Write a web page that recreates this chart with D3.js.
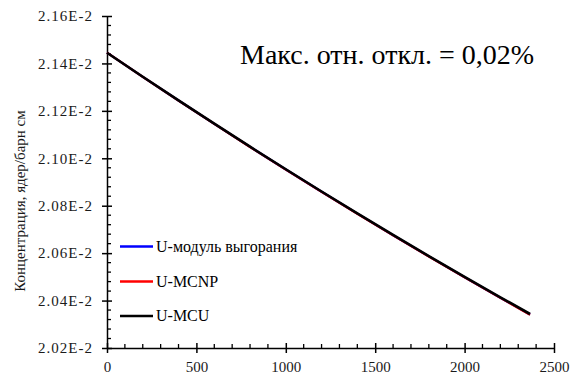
<!DOCTYPE html>
<html>
<head>
<meta charset="utf-8">
<script src="https://cdn.jsdelivr.net/npm/d3@7"></script>
<style>
  body { margin: 0; background: #fff; }
  svg { display: block; }
  text { font-family: "Liberation Serif", "DejaVu Serif", serif; }
</style>
</head>
<body>
<svg id="chart" width="573" height="376"></svg>
<script>
// time, days
const days = [0, 200, 400, 600, 800, 1000, 1200, 1400, 1600, 1800, 2000, 2200, 2366];
// concentration, nuclei/barn cm
const burnupModule = [0.0214452, 0.0213436, 0.0212436, 0.0211451, 0.0210482, 0.0209527, 0.0208589, 0.0207665, 0.0206757, 0.0205863, 0.0204984, 0.0204120, 0.0203412];
const mcnp = [0.0214452, 0.0213434, 0.0212433, 0.0211448, 0.0210478, 0.0209523, 0.0208584, 0.0207660, 0.0206751, 0.0205857, 0.0204978, 0.0204114, 0.0203405];
const mcu = [0.0214452, 0.0213439, 0.0212441, 0.0211458, 0.0210490, 0.0209537, 0.0208599, 0.0207676, 0.0206769, 0.0205876, 0.0204999, 0.0204137, 0.0203434];

const seriesNames = ['U-модуль выгорания', 'U-MCNP', 'U-MCU'];
const seriesColors = ['#0000ff', '#ff0000', '#000000'];
const xTicks = [0, 500, 1000, 1500, 2000, 2500];
const yTicks = [0.0202, 0.0204, 0.0206, 0.0208, 0.0210, 0.0212, 0.0214, 0.0216];

const serif = '"Liberation Serif", "DejaVu Serif", serif';
const svg = d3.select('#chart');
const plotLeft = 107, plotRight = 554, plotTop = 16, plotBottom = 348;

const x = d3.scaleLinear().domain([0, 2500]).range([plotLeft, plotRight]);
const y = d3.scaleLinear().domain([0.0202, 0.0216]).range([plotBottom, plotTop]);

function fmtE(v) {
    return d3.format('.2e')(v).replace('e', 'E').replace('E+', 'E');
}

// minor ticks
const xMinor = d3.range(0, 2501, 100).filter(v => v % 500 !== 0);
const yMinor = d3.range(0, 36).map(i => 0.0202 + i * 0.00004).filter((v, i) => i % 5 !== 0);

const g = svg.append('g');

g.selectAll('.xminor').data(xMinor).enter().append('line')
    .attr('x1', d => x(d)).attr('x2', d => x(d))
    .attr('y1', plotBottom).attr('y2', plotBottom - 4)
    .attr('stroke', '#000').attr('stroke-width', 1.3);
g.selectAll('.yminor').data(yMinor).enter().append('line')
    .attr('y1', d => y(d)).attr('y2', d => y(d))
    .attr('x1', plotLeft).attr('x2', plotLeft + 4)
    .attr('stroke', '#000').attr('stroke-width', 1.3);

// axes
const xAxis = d3.axisBottom(x).tickValues(xTicks).tickSizeInner(5).tickSizeOuter(0).tickPadding(8).tickFormat(d3.format('d'));
const yAxis = d3.axisLeft(y).tickValues(yTicks).tickSizeInner(5).tickSizeOuter(0).tickPadding(9).tickFormat(fmtE);

const gx = svg.append('g').attr('transform', `translate(0,${plotBottom})`).call(xAxis);
const gy = svg.append('g').attr('transform', `translate(${plotLeft},0)`).call(yAxis);

[gx, gy].forEach(ax => {
    ax.attr('font-family', serif).attr('font-size', 15);
    ax.select('.domain').attr('stroke', '#000').attr('stroke-width', 1.5);
    ax.selectAll('.tick line').attr('stroke', '#000').attr('stroke-width', 1.5);
    ax.selectAll('.tick text').attr('fill', '#1a1a1a');
});
gy.selectAll('.tick text').attr('letter-spacing', 1);
// major ticks cross the axis
gx.selectAll('.tick line').attr('y1', -5).attr('y2', 5);
gy.selectAll('.tick line').attr('x1', -5).attr('x2', 5);

// series
const allSeries = [burnupModule, mcnp, mcu];
const line = d3.line().x((d, i) => x(days[i])).y(d => y(d));

allSeries.forEach((s, k) => {
    svg.append('path')
        .datum(s)
        .attr('d', line)
        .attr('fill', 'none')
        .attr('stroke', seriesColors[k])
        .attr('stroke-width', k === 2 ? 2.6 : 2.2);
});

// legend
const legendY = [246.5, 281.5, 316];
seriesNames.forEach((name, k) => {
    svg.append('line')
        .attr('x1', 120).attr('x2', 153)
        .attr('y1', legendY[k]).attr('y2', legendY[k])
        .attr('stroke', seriesColors[k]).attr('stroke-width', 2.5);
    svg.append('text')
        .attr('x', 156).attr('y', legendY[k] + 5)
        .attr('font-family', serif)
        .attr('font-size', 16)
        .attr('fill', '#000')
        .text(name);
});

// annotation
svg.append('text')
    .attr('x', 240).attr('y', 64)
    .attr('font-family', serif)
    .attr('font-size', 28)
    .attr('fill', '#000')
    .text('Макс. отн. откл. = 0,02%');

// y title
svg.append('text')
    .attr('transform', 'translate(25,201) rotate(-90)')
    .attr('text-anchor', 'middle')
    .attr('font-family', serif)
    .attr('font-size', 15)
    .attr('fill', '#1a1a1a')
    .text('Концентрация, ядер/барн см');
</script>
</body>
</html>
